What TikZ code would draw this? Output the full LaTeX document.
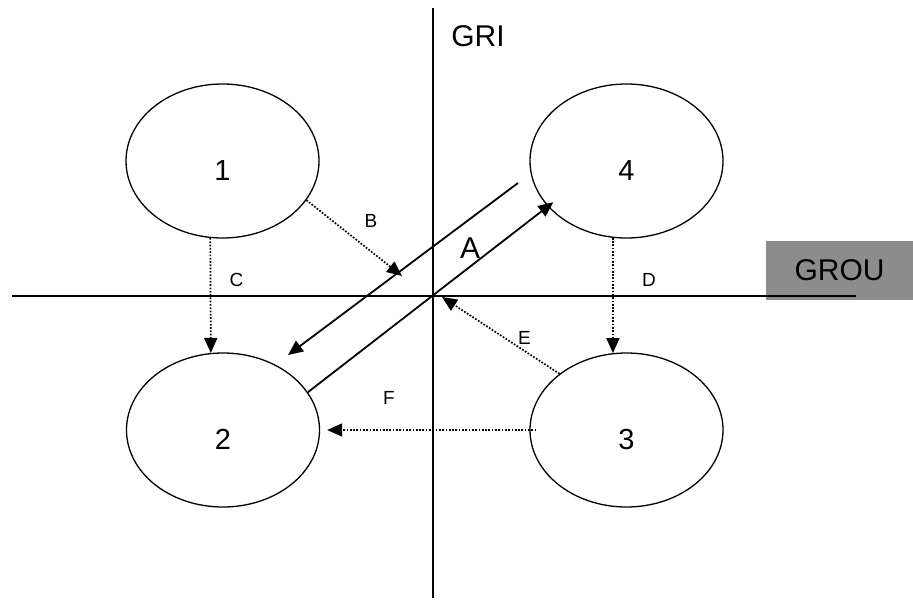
\documentclass[tikz,border=0pt]{standalone}
\usepackage{fontspec}
\setmainfont{Liberation Sans}
\usetikzlibrary{arrows.meta,shapes.geometric}

\begin{document}
\begin{tikzpicture}[x=1pt,y=-1pt,
  bubble/.style={draw,ellipse,line width=1.3pt,minimum width=193pt,minimum height=154pt,inner sep=0pt,text height=39pt,text depth=0pt,font=\fontsize{29}{34}\selectfont},
  big/.style={font=\fontsize{30}{36}\selectfont,inner sep=0pt},
  tag/.style={font=\fontsize{19}{23}\selectfont,inner sep=0pt},
  axis/.style={line width=2pt},
  solidarrow/.style={line width=1.8pt,-{Triangle[length=15pt,width=13pt]}},
  dotarrow/.style={line width=1.7pt,dash pattern=on 1.7pt off 1.6pt,-{Triangle[length=15pt,width=13pt]}}]
\useasboundingbox (0,0) rectangle (913,600);

% Quadrant box and axes.
\node[big,fill=black!45,minimum width=147pt,minimum height=59pt] (grou) at (839.5,270.5) {GROU};
\coordinate (yTop) at (433,8);
\coordinate (yBot) at (433,598);
\coordinate (xLeft) at (12,296);
\coordinate (xRight) at (856,296);
\draw[axis] (yTop) -- (yBot);
\draw[axis] (xLeft) -- (xRight);
\node[big] (gri) at (478,36) {GRI};

% The four states.
\node[bubble] (n1) at (222.5,161) {1};
\node[bubble] (n4) at (626.5,161) {4};
\node[bubble] (n2) at (223,430) {2};
\node[bubble] (n3) at (626.5,430) {3};

% Transitions.
\coordinate (bEnd) at (402,276);
\coordinate (eEnd) at (442,297);
\coordinate (aStart) at (518,183);
\coordinate (aEnd) at (288,355);
\draw[solidarrow,shorten >=-7pt] (n2.24) -- (n4.210);
\draw[solidarrow] (aStart) -- (aEnd);
\draw[dotarrow] (n1.-25) -- (bEnd);
\draw[dotarrow] (n1.-99) -- (n2.99);
\draw[dotarrow] (n4.-100) -- (n3.100);
\draw[dotarrow] (n3.140) -- (eEnd);
\draw[dotarrow] ([xshift=7pt]n3.west) -- ([xshift=7pt]n2.east);

\node[big] (labA) at (470,248) {A};
\node[tag] (labB) at (371,221) {B};
\node[tag] (labC) at (236.5,280) {C};
\node[tag] (labD) at (649,280) {D};
\node[tag] (labE) at (524.5,337.5) {E};
\node[tag] (labF) at (389,398) {F};
\end{tikzpicture}
\end{document}
